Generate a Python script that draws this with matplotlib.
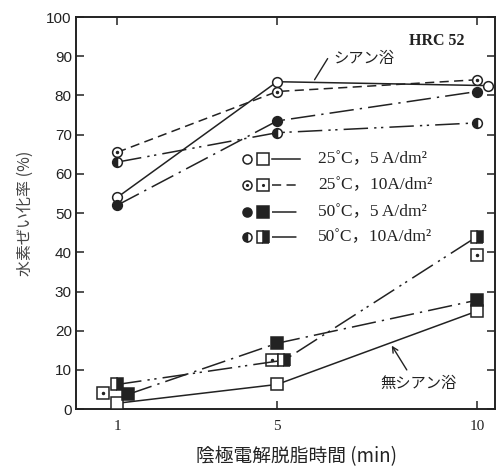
import matplotlib
matplotlib.use("Agg")
import matplotlib.pyplot as plt

# degreasing time (min)
times = [1, 5, 10]

# cyanide bath, circles
cy_25_5 = [54, 83.5, 82.5]
cy_25_10 = [65.5, 81, 84]
cy_50_5 = [52, 73.5, 81]
cy_50_10 = [63, 70.5, 73]

# cyanide-free bath, squares
nc_25_5 = [1.5, 6.3, 25]
nc_25_10 = [4, 12.5, 39.3]
nc_50_5 = [3.8, 16.8, 27.8]
nc_50_10 = [6.3, 12.5, 44]

# small x shifts so overlapping symbols stay visible
x_cy_25_5 = [1, 5, 10.28]
x_nc_25_10 = [0.65, 4.87, 10]
x_nc_50_5 = [1.28, 5, 10]
x_nc_50_10 = [1, 5.18, 10]

legend_labels = ["25˚C，5 A/dm²", "25˚C，10A/dm²", "50˚C，5 A/dm²", "50˚C，10A/dm²"]

JP = ["Noto Sans CJK JP", "DejaVu Sans"]
SERIF = ["Liberation Serif", "Noto Sans CJK JP"]
INK = "#222222"

ls_solid = "-"
ls_dash = (0, (6, 3.5))
ls_dd = (0, (16, 4, 1.5, 4))
ls_ddd = (0, (16, 4, 1.5, 3, 1.5, 4))

fig = plt.figure(figsize=(4.97, 4.66), dpi=100)
ax = fig.add_axes([0.153, 0.122, 0.843, 0.8415])

lw = 1.1
cs, ss = 7, 8.5

def mk(fill):
    d = dict(markeredgecolor=INK, markeredgewidth=1.1, color=INK, linewidth=lw)
    if fill == "open":
        d.update(markerfacecolor="white")
    elif fill == "full":
        d.update(markerfacecolor=INK)
    else:
        d.update(markerfacecolor=INK, fillstyle=fill, markerfacecoloralt="white")
    return d

# cyanide bath
ax.plot(x_cy_25_5, cy_25_5, linestyle=ls_solid, marker="o", markersize=cs, **mk("open"), zorder=3)
ax.plot(times, cy_25_10, linestyle=ls_dash, marker="o", markersize=cs, **mk("open"), zorder=3)
ax.plot(times, cy_25_10, linestyle="none", marker=".", markersize=3, color=INK, zorder=4)
ax.plot(times, cy_50_5, linestyle=ls_dd, marker="o", markersize=cs, **mk("full"), zorder=3)
ax.plot(times, cy_50_10, linestyle=ls_ddd, marker="o", markersize=cs, **mk("left"), zorder=3)

# cyanide-free bath
ax.plot(times, nc_25_5, linestyle=ls_solid, marker="s", markersize=ss, **mk("open"), zorder=3)
ax.plot(x_nc_25_10, nc_25_10, linestyle="none", marker="s", markersize=ss, **mk("open"), zorder=3)
ax.plot(x_nc_25_10, nc_25_10, linestyle="none", marker=".", markersize=3, color=INK, zorder=4)
ax.plot(x_nc_50_5, nc_50_5, linestyle=ls_dd, marker="s", markersize=ss, **mk("full"), zorder=3)
ax.plot(x_nc_50_10, nc_50_10, linestyle=ls_ddd, marker="s", markersize=ss, **mk("right"), zorder=3)

ax.set_xlim(-0.03, 10.45)
ax.set_ylim(0, 100)
ax.set_xticks(times)
ax.set_yticks(range(0, 101, 10))
ax.tick_params(direction="in", length=5.5, width=1.1, top=True, right=True,
               colors=INK, labelsize=11)
for lab in ax.get_xticklabels():
    lab.set_fontfamily("Liberation Serif")
for lab in ax.get_yticklabels():
    lab.set_fontfamily("Liberation Sans")
ax.tick_params(axis="x", pad=8)
ax.tick_params(axis="y", pad=3)
for sp in ax.spines.values():
    sp.set_linewidth(1.4)
    sp.set_color(INK)

ax.set_xlabel("陰極電解脱脂時間 (min)", family=JP, fontsize=13.5, color=INK)
ax.xaxis.set_label_coords(0.525, -0.095)
ax.set_ylabel("水素ぜい化率 (%)", family=JP, fontsize=11.5, color="#444444", labelpad=9)

# hand-made legend
rows_y = [0.638, 0.571, 0.503, 0.439]
styles = [(ls_solid, "open", "open"), (ls_dash, "open", "open"),
          (ls_dd, "full", "full"), (ls_ddd, "left", "right")]
tr = ax.transAxes
for i, (ry, (ls, cf, sf), lab) in enumerate(zip(rows_y, styles, legend_labels)):
    ax.plot([0.408], [ry], transform=tr, marker="o", markersize=6.5, linestyle="none", **mk(cf))
    ax.plot([0.446], [ry], transform=tr, marker="s", markersize=8, linestyle="none", **mk(sf))
    if i == 1:
        ax.plot([0.408, 0.446], [ry, ry], transform=tr, marker=".", markersize=2.5,
                linestyle="none", color=INK)
    ax.plot([0.468, 0.535], [ry, ry], transform=tr, linestyle=ls, color=INK, linewidth=lw)
    ax.text(0.578, ry, lab, transform=tr, family=SERIF, fontsize=12.5, color=INK, va="center")

ax.text(0.795, 0.94, "HRC 52", transform=tr, family=SERIF, fontsize=11.5,
        fontweight="bold", color=INK, va="center")

ax.annotate("", xy=(5.9, 83.4), xytext=(6.3, 90),
            arrowprops=dict(arrowstyle="-", color=INK, lw=1.0))
ax.text(6.4, 89.5, "シアン浴", family=JP, fontsize=11, color=INK, va="center")

ax.annotate("", xy=(7.83, 16.8), xytext=(8.28, 9.4),
            arrowprops=dict(arrowstyle="->", color=INK, lw=1.0))
ax.text(7.58, 6.6, "無シアン浴", family=JP, fontsize=11, color=INK, va="center")

fig.savefig("out.png", dpi=100, facecolor="white")
